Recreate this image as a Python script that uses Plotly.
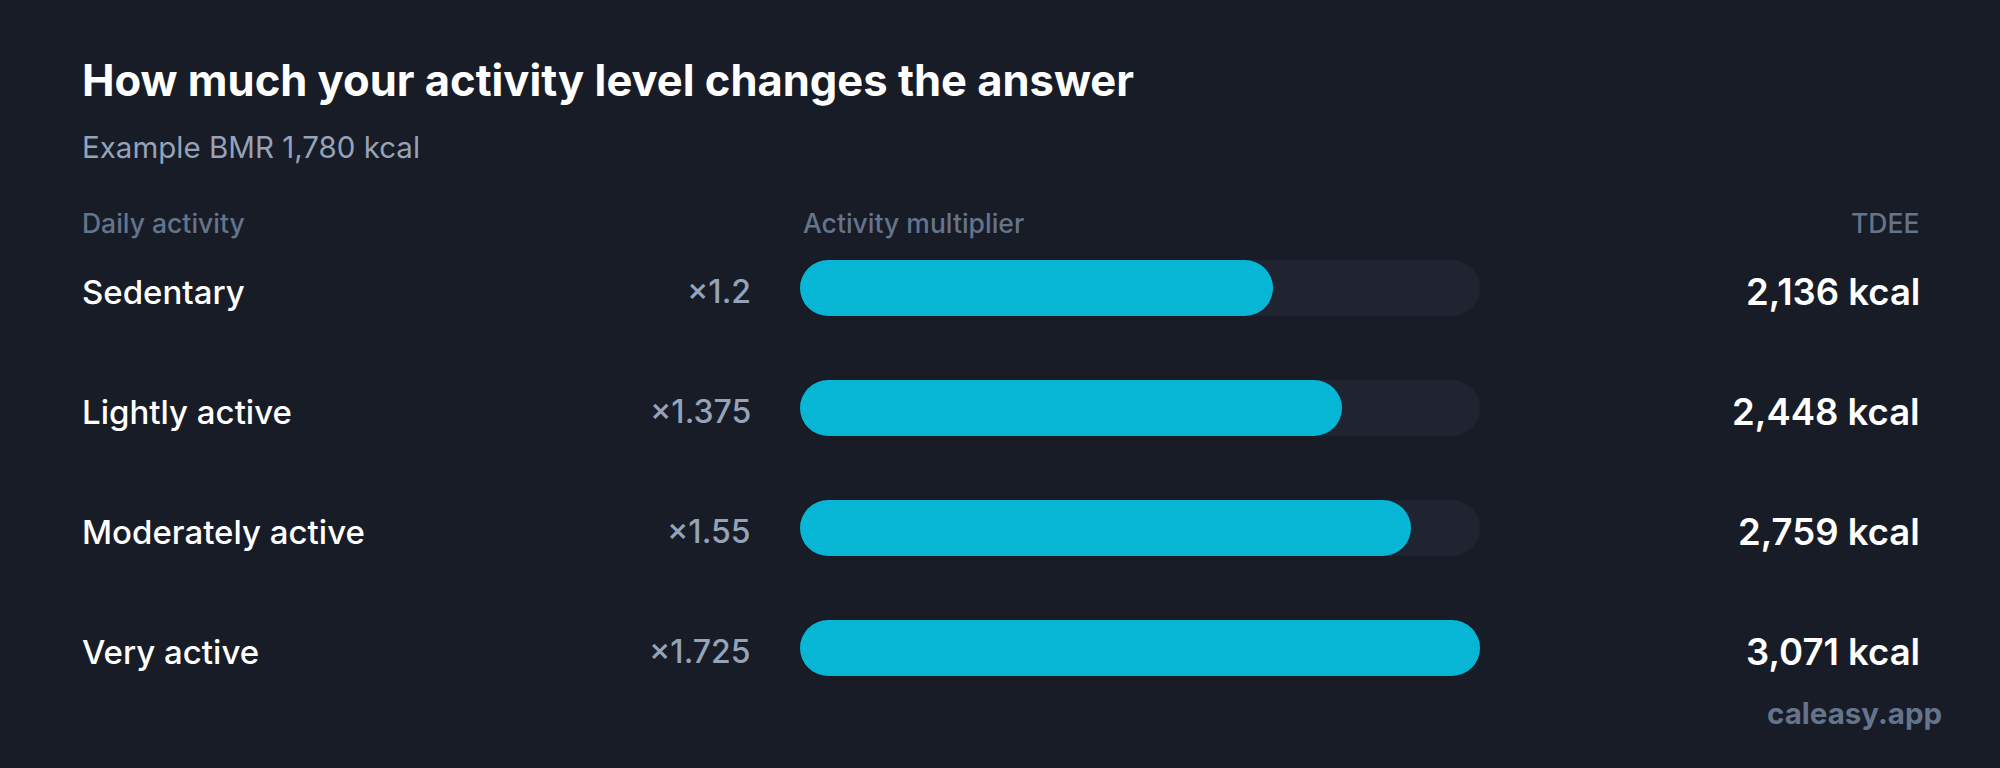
import plotly.graph_objects as go

# --- data
activities = ["Sedentary", "Lightly active", "Moderately active", "Very active"]
multipliers = [1.2, 1.375, 1.55, 1.725]
multiplier_labels = ["×1.2", "×1.375", "×1.55", "×1.725"]
tdee_kcal = [2136, 2448, 2759, 3071]
bmr_kcal = 1780

# --- style
BG = "#181c27"
TRACK = "#1f2430"
CYAN = "#06b6d4"
WHITE = "#ffffff"
MUTED = "#94a3b8"
DIM = "#64748b"
FONT = "Inter"

# --- pixel geometry (2000 x 768 page)
W, H = 2000, 768
PLOT_L, PLOT_R = 800, 1480
PLOT_T, PLOT_B = 228, 708
ROW_H = 120
BAR_H = 56

rows = list(range(len(activities)))
frac = [m / max(multipliers) for m in multipliers]


def px_x(px):
    return (px - PLOT_L) / (PLOT_R - PLOT_L)


def px_y(py):
    return (PLOT_B - py) / (PLOT_B - PLOT_T)


fig = go.Figure()

# background track (explicit base -> plotly rounds both ends)
fig.add_trace(go.Bar(
    y=rows, x=[1] * len(rows), base=[0] * len(rows), orientation="h",
    width=BAR_H / ROW_H, marker=dict(color=TRACK, line=dict(width=0)),
    hoverinfo="skip", showlegend=False,
))
# filled part
fig.add_trace(go.Bar(
    y=rows, x=frac, base=[0] * len(rows), orientation="h",
    width=BAR_H / ROW_H, marker=dict(color=CYAN, line=dict(width=0)),
    hoverinfo="skip", showlegend=False,
))

ann = []
# title + subtitle
ann.append(dict(text="How much your activity level changes the answer",
                x=px_x(80), y=px_y(80), xanchor="left", yanchor="middle",
                font=dict(family=FONT, size=43.5, color=WHITE, weight=700)))
ann.append(dict(text=f"Example BMR {bmr_kcal:,} kcal",
                x=px_x(80), y=px_y(147), xanchor="left", yanchor="middle",
                font=dict(family=FONT, size=29.5, color=MUTED)))
# column headers
hdr_font = dict(family=FONT, size=26.5, color=DIM, weight=500)
ann.append(dict(text="Daily activity", x=px_x(80), y=px_y(223),
                xanchor="left", yanchor="middle", font=hdr_font))
ann.append(dict(text="Activity multiplier", x=px_x(801), y=px_y(223),
                xanchor="left", yanchor="middle", font=hdr_font))
ann.append(dict(text="TDEE", x=px_x(1921), y=px_y(223),
                xanchor="right", yanchor="middle", font=hdr_font))

for i, name in enumerate(activities):
    ann.append(dict(text=name, x=px_x(80), y=rows[i] + 0.03, yref="y",
                    xanchor="left", yanchor="middle",
                    font=dict(family=FONT, size=33, color=WHITE, weight=500)))
    ann.append(dict(text=multiplier_labels[i], x=px_x(753), y=rows[i] + 0.03, yref="y",
                    xanchor="right", yanchor="middle",
                    font=dict(family=FONT, size=32, color=MUTED, weight=500)))
    ann.append(dict(text=f"{tdee_kcal[i]:,} kcal", x=px_x(1922), y=rows[i] + 0.03, yref="y",
                    xanchor="right", yanchor="middle",
                    font=dict(family=FONT, size=36.5, color=WHITE, weight=600)))

ann.append(dict(text="caleasy.app", x=px_x(1944), y=px_y(713),
                xanchor="right", yanchor="middle",
                font=dict(family=FONT, size=29.5, color=DIM, weight=700)))

for a in ann:
    a.setdefault("xref", "paper")
    a.setdefault("yref", "paper")
    a["showarrow"] = False

fig.update_layout(
    width=W, height=H,
    paper_bgcolor=BG, plot_bgcolor=BG,
    margin=dict(l=PLOT_L, r=W - PLOT_R, t=PLOT_T, b=H - PLOT_B, pad=0),
    barmode="overlay", barcornerradius=BAR_H / 2,
    xaxis=dict(range=[0, 1], visible=False, fixedrange=True),
    yaxis=dict(range=[len(rows) - 0.5, -0.5], visible=False, fixedrange=True),
    annotations=ann,
    showlegend=False,
)

fig.write_html(
    "out.html",
    config={"displayModeBar": False},
    post_script="document.body.style.margin='0';document.body.style.background='" + BG + "';",
)
